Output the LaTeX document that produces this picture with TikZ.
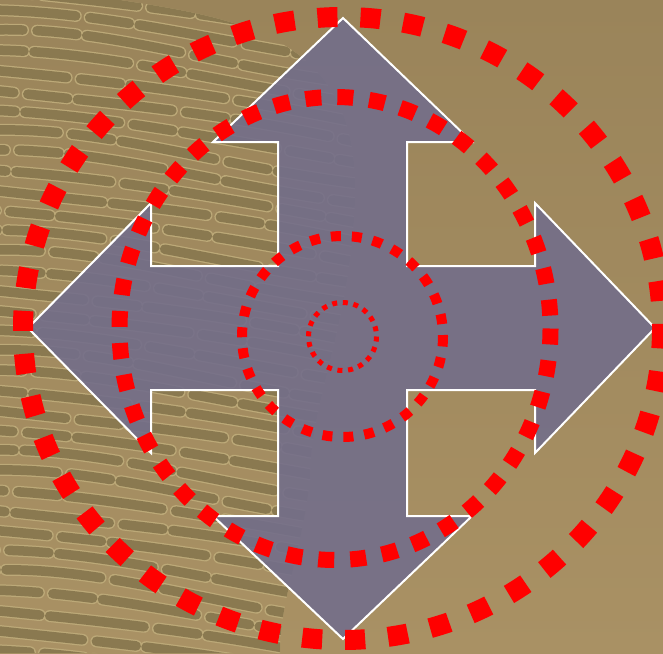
\documentclass[tikz,border=0pt]{standalone}
\definecolor{sandtop}{HTML}{9A845A}
\definecolor{sandbot}{HTML}{A99164}
\definecolor{ridge}{HTML}{8A7950}
\definecolor{ridgeedge}{HTML}{BCA978}
\definecolor{arrowfill}{HTML}{736E8A}
\tikzset{
  ridgeline/.style={line width=#1, line cap=round, dash pattern=on 95pt off 14pt on 40pt off 10pt},
  ring/.style 2 args={red, line width=#1, dash pattern=on #1 off #2}
}
\begin{document}
\begin{tikzpicture}[x=1pt, y=-1pt]
  \useasboundingbox (0,0) rectangle (663,653);
  \fill[top color=sandtop, bottom color=sandbot] (0,0) rectangle (663,653);

  % ridged sand on the left
  \begin{scope}
    \clip (0,0) -- (120,0) .. controls (250,20) and (360,40) .. (355,200)
      .. controls (350,330) and (310,400) .. (310,480)
      .. controls (300,560) and (280,600) .. (280,653) -- (0,653) -- cycle;
    \foreach \y [count=\i] in {-30,-10,...,680} {
      \pgfmathsetmacro\ph{mod(\i*53,150)}
      \pgfmathsetmacro\wob{9*sin(\i*67)}
      \draw[ridgeedge, ridgeline=12pt, dash phase=\ph]
        (-10,\y) .. controls (110,\y+5+\wob) and (220,\y+30-\wob) .. (370,\y+55);
      \draw[ridge, ridgeline=9.5pt, dash phase=\ph]
        (-10,\y) .. controls (110,\y+5+\wob) and (220,\y+30-\wob) .. (370,\y+55);
    }
  \end{scope}

  % four-way arrow
  \filldraw[fill=arrowfill, fill opacity=0.9, draw=white, line width=2pt]
    (343,18) -- (472,142) -- (407,142) -- (407,266) -- (535,266) -- (535,203)
    -- (655,328) -- (535,453) -- (535,390) -- (407,390) -- (407,516)
    -- (472,516) -- (343,639) -- (213,516) -- (278,516) -- (278,390)
    -- (151,390) -- (151,453) -- (28,328) -- (151,203) -- (151,266)
    -- (278,266) -- (278,142) -- (213,142) -- cycle;

  % dotted rings
  \coordinate (hub) at (342.5,336.5);
  \coordinate (mid) at (335,328.5);
  \coordinate (out) at (342.5,328.5);
  \draw[ring={5pt}{5.7pt}] (hub) circle [radius=34];
  \draw[ring={10pt}{11pt}] (hub) circle [radius=100.5];
  \draw[ring={16pt}{16pt}] (mid) ellipse [x radius=215.5, y radius=231.5];
  \draw[ring={20pt}{23pt}] (out) ellipse [x radius=319.5, y radius=311.5];
\end{tikzpicture}
\end{document}
